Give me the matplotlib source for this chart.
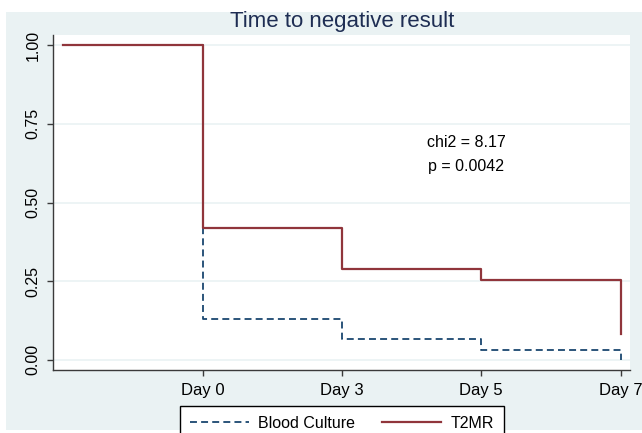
import matplotlib
matplotlib.use("Agg")
import matplotlib.pyplot as plt
from matplotlib.patches import Rectangle

plt.rcParams["font.family"] = ["Liberation Sans", "DejaVu Sans"]
plt.rcParams["lines.scale_dashes"] = False

# Kaplan-Meier style step data (positions: start, Day 0, Day 3, Day 5, Day 7)
positions = [0, 1, 2, 3, 4]
tick_positions = [1, 2, 3, 4]
tick_labels = ["Day 0", "Day 3", "Day 5", "Day 7"]
blood_culture = [1.0, 0.13, 0.065, 0.032, 0.0]
t2mr = [1.0, 0.42, 0.29, 0.255, 0.083]
y_ticks = [0.0, 0.25, 0.5, 0.75, 1.0]
y_tick_labels = ["0.00", "0.25", "0.50", "0.75", "1.00"]
chi2_text = "chi2 = 8.17"
p_text = "p = 0.0042"

W, H = 642, 433
bg = "#eaf2f3"
navy = "#1a476f"
maroon = "#90353b"
axis_col = "#3a3a3a"

fig = plt.figure(figsize=(W / 100, H / 100), dpi=100, facecolor="white")
# light graph region (image is a crop with a thin white margin)
region = Rectangle((6 / W, 3 / H), 1 - 6 / W, (H - 12 - 3) / H,
                   transform=fig.transFigure, facecolor=bg,
                   edgecolor="none", zorder=-10)
fig.add_artist(region)

ax = fig.add_axes([53 / W, (H - 370) / H, (630 - 53) / W, (370 - 35) / H])
ax.set_facecolor("white")
ax.set_zorder(1)

ax.step(positions, blood_culture, where="post", color=navy, lw=1.3,
        linestyle=(0, (5, 3)), label="Blood Culture", zorder=3)
ax.step(positions, t2mr, where="post", color=maroon, lw=1.6,
        label="T2MR", zorder=4)

ax.set_xlim(-0.075, 4.068)
ax.set_ylim(-0.032, 1.032)

ax.set_xticks(tick_positions)
ax.set_xticklabels(tick_labels, fontsize=12)
ax.set_yticks(y_ticks)
ax.set_yticklabels(y_tick_labels, fontsize=11.5, rotation=90, va="center")
ax.tick_params(axis="both", direction="out", length=4, width=1, color=axis_col,
               labelcolor="black", pad=5)

for y in y_ticks:
    ax.axhline(y, color=bg, lw=1.2, zorder=1)

for s in ["top", "right"]:
    ax.spines[s].set_visible(False)
for s in ["left", "bottom"]:
    ax.spines[s].set_color(axis_col)
    ax.spines[s].set_linewidth(1)

ax.text(2.89, 0.69, chi2_text, ha="center", va="center", fontsize=11.5)
ax.text(2.89, 0.614, p_text, ha="center", va="center", fontsize=11.5)

fig.text(342 / W, 1 - 21 / H, "Time to negative result", ha="center",
         va="center", fontsize=16, color="#1e2d53")

leg = fig.legend(loc="upper center", bbox_to_anchor=(342 / W, 1 - 398 / H),
                 ncol=2, fontsize=11.5, frameon=True, fancybox=False,
                 edgecolor="black", facecolor="white", framealpha=1,
                 handlelength=3.7, handletextpad=0.6, columnspacing=1.7,
                 borderpad=0.6)
leg.get_frame().set_linewidth(1)

fig.savefig("out.png", dpi=100)
